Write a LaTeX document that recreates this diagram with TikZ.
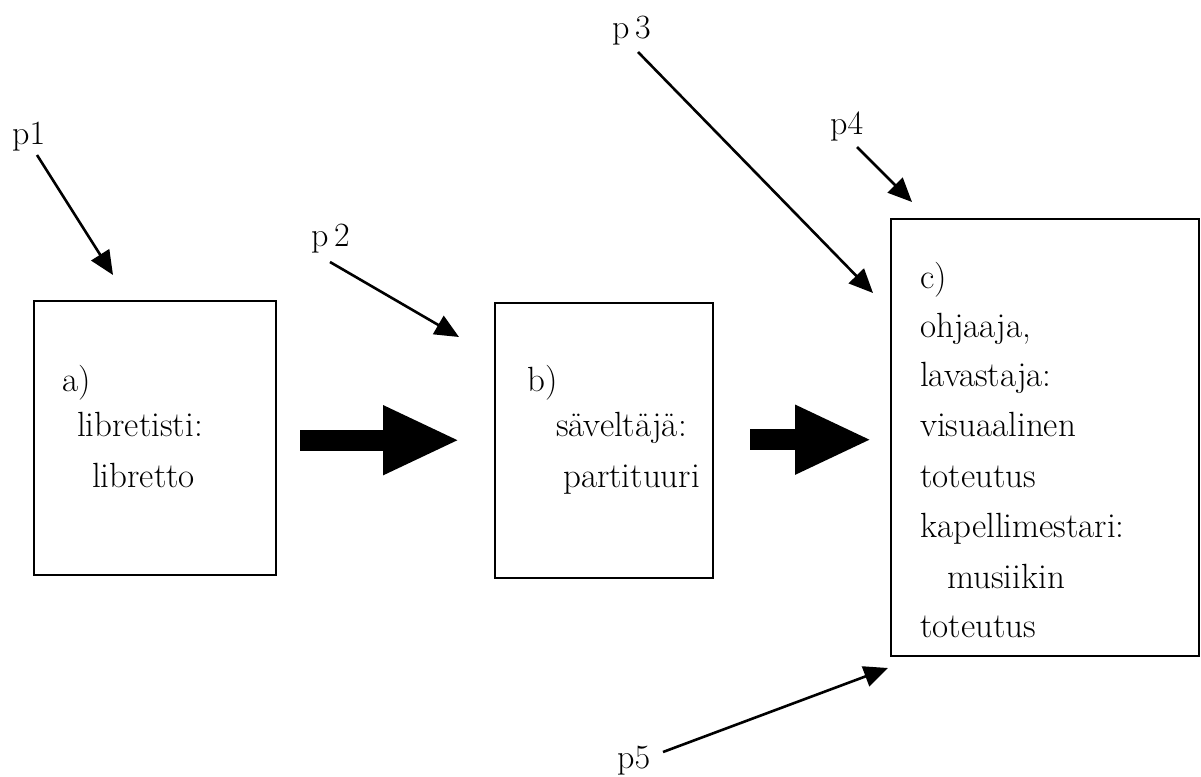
\documentclass[tikz,border=0pt]{standalone}
\usepackage{fontspec}
\usetikzlibrary{arrows.meta}
\begin{document}
\begin{tikzpicture}[x=1pt,y=-1pt,
  box/.style={draw,line width=2.4pt,inner sep=0pt,anchor=north west},
  txt/.style={anchor=base west,inner sep=0pt,font=\fontsize{35}{40}\selectfont},
  lbl/.style={anchor=base west,inner sep=0pt,font=\fontsize{34}{40}\selectfont},
  thin/.style={line width=2.6pt,-{Triangle[length=24pt,width=21pt]}},
  fat/.style={line width=21pt,-{Triangle[length=77pt,width=64pt]}}]
\useasboundingbox (0,0) rectangle (1201,776);
% boxes
\node[box,minimum width=242pt,minimum height=274pt] (a) at (33,300) {};
\node[box,minimum width=218pt,minimum height=275pt] (b) at (494,302) {};
\node[box,minimum width=308pt,minimum height=437pt] (c) at (890,218) {};
% box texts
\node[txt] (a1) at (62,391) {a)};
\node[txt] (a2) at (77,436) {libretisti:};
\node[txt] (a3) at (92,487) {libretto};
\node[txt] (b1) at (527,391) {b)};
\node[txt] (b2) at (556,436) {säveltäjä:};
\node[txt] (b3) at (563,487) {partituuri};
\node[txt] (c1) at (920,288) {c)};
\node[txt] (c2) at (920,337) {ohjaaja,};
\node[txt] (c3) at (920,386) {lavastaja:};
\node[txt] (c4) at (920,436) {visuaalinen};
\node[txt] (c5) at (920,487) {toteutus};
\node[txt] (c6) at (920,537) {kapellimestari:};
\node[txt] (c7) at (947,588) {musiikin};
\node[txt] (c8) at (920,637) {toteutus};
% labels
\node[lbl] (p1) at (12,144) {p1};
\node[lbl] (p2) at (311,246) {p\,2};
\node[lbl] (p3) at (612,38) {p\,3};
\node[lbl] (p4) at (830,134) {p4};
\node[lbl] (p5) at (617,768) {p5};
% arrow ends
\coordinate (s1) at (37,155);  \coordinate (t1) at (113,275);
\coordinate (s2) at (330,262); \coordinate (t2) at (459,337);
\coordinate (s3) at (638,52);  \coordinate (t3) at (873,293);
\coordinate (s4) at (857,147); \coordinate (t4) at (912,202);
\coordinate (s5) at (663,752); \coordinate (t5) at (888,668);
\draw[thin] (s1) -- (t1);
\draw[thin] (s2) -- (t2);
\draw[thin] (s3) -- (t3);
\draw[thin] (s4) -- (t4);
\draw[thin] (s5) -- (t5);
% fat arrows
\coordinate (f1) at ([xshift=23pt,yshift=-2pt]a.east);
\draw[fat] (f1) -- ([xshift=-34pt]b.west |- f1);
\coordinate (f2) at ([xshift=36pt,yshift=1pt]b.east);
\draw[fat] (f2) -- ([xshift=-18pt]c.west |- f2);
\end{tikzpicture}
\end{document}
